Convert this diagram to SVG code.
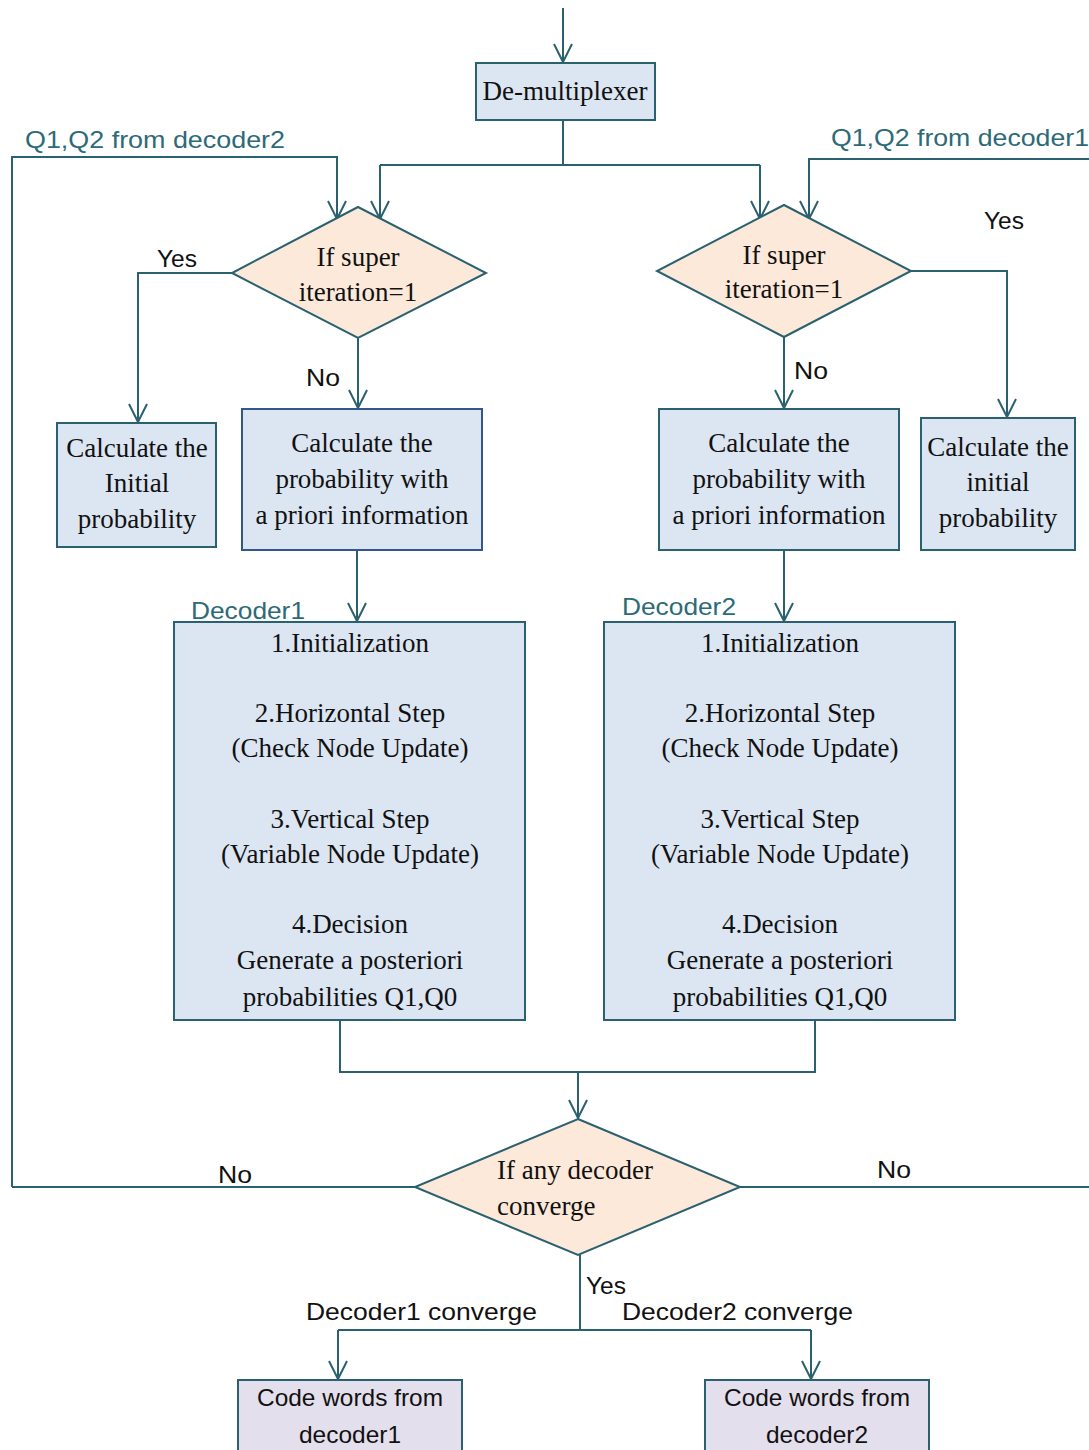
<svg xmlns="http://www.w3.org/2000/svg" width="1089" height="1450" viewBox="0 0 1089 1450">
  <defs>
    <marker id="arr" markerUnits="userSpaceOnUse" markerWidth="22" markerHeight="22" viewBox="0 0 22 22" refX="20" refY="11" orient="auto">
      <path d="M2,2 L20,11 L2,20" fill="none" stroke="#2a6170" stroke-width="2"/>
    </marker>
    <style>
      .ln { fill: none; stroke: #2a6170; stroke-width: 2; }
      .box { fill: #dce6f2; stroke: #2a6170; stroke-width: 2; }
      .box2 { fill: #dce6f2; stroke: #34578a; stroke-width: 2; }
      .dia { fill: #fde9d9; stroke: #2a6170; stroke-width: 2; }
      .out { fill: #e4dfec; stroke: #2a6170; stroke-width: 2; }
      .serif { font-family: "Liberation Serif", "Times New Roman", serif; font-size: 27px; fill: #111; }
      .mid { text-anchor: middle; }
      .lab { font-family: "Liberation Sans", Arial, sans-serif; font-size: 24px; fill: #111; }
      .tl { font-family: "Liberation Sans", Arial, sans-serif; font-size: 24px; fill: #2d6a78; }
    </style>
  </defs>

  <!-- connectors -->
  <g id="connectors">
    <path class="ln" d="M563,8 V62" marker-end="url(#arr)"/>
    <path class="ln" d="M563,120 V165 M380,165 H760"/>
    <path class="ln" d="M380,165 V219" marker-end="url(#arr)"/>
    <path class="ln" d="M760,165 V219" marker-end="url(#arr)"/>
    <!-- feedback loops -->
    <path class="ln" d="M12,1187 V157 H337 V219" marker-end="url(#arr)"/>
    <path class="ln" d="M1089,159 H809 V219" marker-end="url(#arr)"/>
    <!-- left decision branches -->
    <path class="ln" d="M232,273 H138 V422" marker-end="url(#arr)"/>
    <path class="ln" d="M358,338 V408" marker-end="url(#arr)"/>
    <path class="ln" d="M357,550 V621" marker-end="url(#arr)"/>
    <!-- right decision branches -->
    <path class="ln" d="M911,271 H1007 V417" marker-end="url(#arr)"/>
    <path class="ln" d="M784,337 V408" marker-end="url(#arr)"/>
    <path class="ln" d="M784,550 V621" marker-end="url(#arr)"/>
    <!-- merge into convergence test -->
    <path class="ln" d="M340,1020 V1072 H815 V1020"/>
    <path class="ln" d="M578,1072 V1118" marker-end="url(#arr)"/>
    <path class="ln" d="M415,1187 H12"/>
    <path class="ln" d="M740,1187 H1089"/>
    <!-- outputs -->
    <path class="ln" d="M580,1255 V1330 M338,1330 H811"/>
    <path class="ln" d="M338,1330 V1379" marker-end="url(#arr)"/>
    <path class="ln" d="M811,1330 V1379" marker-end="url(#arr)"/>
  </g>

  <!-- connector labels -->
  <g id="labels">
    <text class="tl" x="25" y="148" textLength="260" lengthAdjust="spacingAndGlyphs">Q1,Q2 from decoder2</text>
    <text class="tl" x="831" y="146" textLength="258" lengthAdjust="spacingAndGlyphs">Q1,Q2 from decoder1</text>
    <text class="lab" x="157" y="267" textLength="40" lengthAdjust="spacingAndGlyphs">Yes</text>
    <text class="lab" x="306" y="386" textLength="34" lengthAdjust="spacingAndGlyphs">No</text>
    <text class="lab" x="984" y="229" textLength="40" lengthAdjust="spacingAndGlyphs">Yes</text>
    <text class="lab" x="794" y="379" textLength="34" lengthAdjust="spacingAndGlyphs">No</text>
    <text class="tl" x="191" y="619" textLength="114" lengthAdjust="spacingAndGlyphs">Decoder1</text>
    <text class="tl" x="622" y="615" textLength="114" lengthAdjust="spacingAndGlyphs">Decoder2</text>
    <text class="lab" x="218" y="1183" textLength="34" lengthAdjust="spacingAndGlyphs">No</text>
    <text class="lab" x="877" y="1178" textLength="34" lengthAdjust="spacingAndGlyphs">No</text>
    <text class="lab" x="586" y="1294" textLength="40" lengthAdjust="spacingAndGlyphs">Yes</text>
    <text class="lab" x="306" y="1320" textLength="231" lengthAdjust="spacingAndGlyphs">Decoder1 converge</text>
    <text class="lab" x="622" y="1320" textLength="231" lengthAdjust="spacingAndGlyphs">Decoder2 converge</text>
  </g>

  <g id="demux">
    <rect class="box" x="476" y="63" width="179" height="57"/>
    <text class="serif mid" x="565" y="100" font-size="28">De-multiplexer</text>
  </g>

  <g id="check1">
    <polygon class="dia" points="358,207 486,273 358,338 232,273"/>
    <text class="serif mid" x="358" y="266">If super</text>
    <text class="serif mid" x="358" y="301">iteration=1</text>
  </g>

  <g id="check2">
    <polygon class="dia" points="784,205 911,271 784,337 657,271"/>
    <text class="serif mid" x="784" y="264">If super</text>
    <text class="serif mid" x="784" y="298">iteration=1</text>
  </g>

  <g id="init1">
    <rect class="box" x="57" y="423" width="159" height="124"/>
    <text class="serif mid" x="137" y="457">Calculate the</text>
    <text class="serif mid" x="137" y="492">Initial</text>
    <text class="serif mid" x="137" y="528">probability</text>
  </g>

  <g id="apriori1">
    <rect class="box2" x="242" y="409" width="240" height="141"/>
    <text class="serif mid" x="362" y="452">Calculate the</text>
    <text class="serif mid" x="362" y="488">probability with</text>
    <text class="serif mid" x="362" y="524">a priori information</text>
  </g>

  <g id="apriori2">
    <rect class="box" x="659" y="409" width="240" height="141"/>
    <text class="serif mid" x="779" y="452">Calculate the</text>
    <text class="serif mid" x="779" y="488">probability with</text>
    <text class="serif mid" x="779" y="524">a priori information</text>
  </g>

  <g id="init2">
    <rect class="box" x="921" y="418" width="154" height="132"/>
    <text class="serif mid" x="998" y="456">Calculate the</text>
    <text class="serif mid" x="998" y="491">initial</text>
    <text class="serif mid" x="998" y="527">probability</text>
  </g>

  <g id="decoder1">
    <rect class="box" x="174" y="622" width="351" height="398"/>
    <text class="serif mid" x="350" y="652">1.Initialization</text>
    <text class="serif mid" x="350" y="722">2.Horizontal Step</text>
    <text class="serif mid" x="350" y="757">(Check Node Update)</text>
    <text class="serif mid" x="350" y="828">3.Vertical Step</text>
    <text class="serif mid" x="350" y="863">(Variable Node Update)</text>
    <text class="serif mid" x="350" y="933">4.Decision</text>
    <text class="serif mid" x="350" y="969">Generate a posteriori</text>
    <text class="serif mid" x="350" y="1006">probabilities Q1,Q0</text>
  </g>

  <g id="decoder2">
    <rect class="box" x="604" y="622" width="351" height="398"/>
    <text class="serif mid" x="780" y="652">1.Initialization</text>
    <text class="serif mid" x="780" y="722">2.Horizontal Step</text>
    <text class="serif mid" x="780" y="757">(Check Node Update)</text>
    <text class="serif mid" x="780" y="828">3.Vertical Step</text>
    <text class="serif mid" x="780" y="863">(Variable Node Update)</text>
    <text class="serif mid" x="780" y="933">4.Decision</text>
    <text class="serif mid" x="780" y="969">Generate a posteriori</text>
    <text class="serif mid" x="780" y="1006">probabilities Q1,Q0</text>
  </g>

  <g id="converge">
    <polygon class="dia" points="578,1119 740,1187 578,1255 415,1187"/>
    <text class="serif" x="497" y="1179">If any decoder</text>
    <text class="serif" x="497" y="1215">converge</text>
  </g>

  <g id="out1">
    <rect class="out" x="238" y="1380" width="224" height="80"/>
    <text class="lab mid" x="350" y="1406" textLength="186" lengthAdjust="spacingAndGlyphs">Code words from</text>
    <text class="lab mid" x="350" y="1443" textLength="102" lengthAdjust="spacingAndGlyphs">decoder1</text>
  </g>

  <g id="out2">
    <rect class="out" x="705" y="1380" width="224" height="80"/>
    <text class="lab mid" x="817" y="1406" textLength="186" lengthAdjust="spacingAndGlyphs">Code words from</text>
    <text class="lab mid" x="817" y="1443" textLength="102" lengthAdjust="spacingAndGlyphs">decoder2</text>
  </g>
</svg>
